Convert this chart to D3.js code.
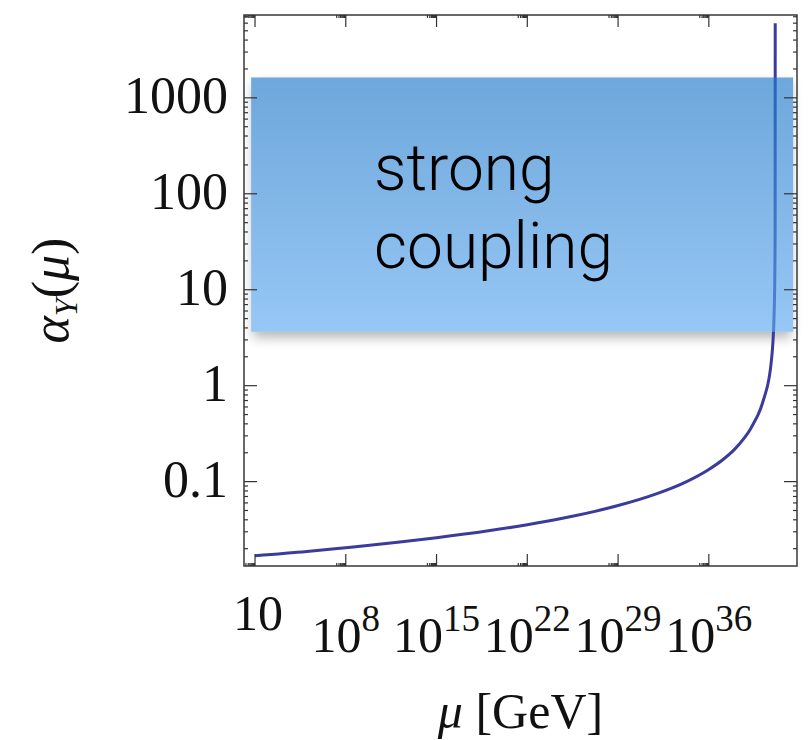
<!DOCTYPE html>
<html>
<head>
<meta charset="utf-8">
<script src="https://cdn.jsdelivr.net/npm/d3@7"></script>
<style>
  body { margin: 0; background: #fff; }
  svg { display: block; }
  .tick-label { font-family: "Liberation Serif", "Times New Roman", serif; fill: #111; }
  .band-label { font-family: Roboto, "Helvetica Neue", sans-serif; font-weight: 300; fill: #000; }
</style>
</head>
<body>
<div id="chart"></div>
<script>
// running coupling (mu in powers of ten)
const muExp = [1, 5, 8, 12, 15, 19, 22, 25, 29, 32, 34, 36, 37, 38, 38.8, 39.2, 39.5, 39.8, 40.0, 40.2, 40.4, 40.55, 40.7, 40.8, 40.9, 40.95, 41.0, 41.05, 41.08, 41.1, 41.115, 41.12];
const alphaY = [0.0169, 0.0187, 0.0205, 0.0233, 0.0260, 0.0307, 0.0355, 0.0422, 0.0563, 0.0750, 0.096, 0.134, 0.166, 0.218, 0.292, 0.352, 0.417, 0.50, 0.58, 0.70, 0.86, 1.03, 1.33, 1.7, 2.35, 2.95, 4.0, 6.6, 11, 20, 45, 6000];

const xTickExp = [1, 8, 15, 22, 29, 36];
const yTicks = [0.1, 1, 10, 100, 1000];
const yTickLabels = ['0.1', '1', '10', '100', '1000'];

// shaded "strong coupling" band
const bandAlpha = [3.64, 1630];
const bandMuExp = [0.7, 42.5];
const bandText = ['strong', 'coupling'];

const width = 812, height = 740;
const plot = { left: 244, right: 797, top: 15, bottom: 566 };

const x = d3.scaleLog().domain([10 ** 0.15, 10 ** 42.8]).range([plot.left, plot.right]);
const y = d3.scaleLog().domain([0.0132, 7300]).range([plot.bottom, plot.top]);

const svg = d3.select('#chart').append('svg')
  .attr('width', width)
  .attr('height', height);

const defs = svg.append('defs');

const grad = defs.append('linearGradient')
  .attr('id', 'bandGrad')
  .attr('x1', 0).attr('y1', 0).attr('x2', 0).attr('y2', 1);
grad.append('stop').attr('offset', '0%').attr('stop-color', 'rgb(32,120,200)');
grad.append('stop').attr('offset', '100%').attr('stop-color', 'rgb(94,169,240)');

defs.append('filter')
  .attr('id', 'blur')
  .attr('x', '-10%').attr('y', '-20%').attr('width', '120%').attr('height', '150%')
  .append('feGaussianBlur').attr('stdDeviation', 6);

const bx0 = x(10 ** bandMuExp[0]), bx1 = x(10 ** bandMuExp[1]);
const by0 = y(bandAlpha[1]), by1 = y(bandAlpha[0]);

// keep the shadow outside the band itself
const mask = defs.append('mask').attr('id', 'shadowMask');
mask.append('rect').attr('x', 0).attr('y', 0).attr('width', width).attr('height', height).attr('fill', '#fff');
mask.append('rect').attr('x', bx0).attr('y', by0).attr('width', bx1 - bx0).attr('height', by1 - by0).attr('fill', '#000');

svg.append('g')
  .attr('mask', 'url(#shadowMask)')
  .append('rect')
  .attr('x', bx0 + 2)
  .attr('y', by0 + 6)
  .attr('width', bx1 - bx0 - 4)
  .attr('height', by1 - by0)
  .attr('fill', '#000')
  .attr('opacity', 0.28)
  .attr('filter', 'url(#blur)');

// curve
const line = d3.line()
  .x((d, i) => x(10 ** muExp[i]))
  .y(d => y(d))
  .curve(d3.curveMonotoneX);

svg.append('path')
  .datum(alphaY)
  .attr('d', line)
  .attr('fill', 'none')
  .attr('stroke', '#3b3b9d')
  .attr('stroke-width', 3);

// band over the curve
svg.append('rect')
  .attr('x', bx0)
  .attr('y', by0)
  .attr('width', bx1 - bx0)
  .attr('height', by1 - by0)
  .attr('fill', 'url(#bandGrad)')
  .attr('opacity', 0.65);

svg.append('text')
  .attr('class', 'band-label')
  .attr('font-size', 64)
  .selectAll('tspan')
  .data(bandText)
  .join('tspan')
  .attr('x', 374)
  .attr('y', (d, i) => 190 + i * 78)
  .text(d => d);

// frame
svg.append('rect')
  .attr('x', plot.left)
  .attr('y', plot.top)
  .attr('width', plot.right - plot.left)
  .attr('height', plot.bottom - plot.top)
  .attr('fill', 'none')
  .attr('stroke', '#444')
  .attr('stroke-width', 1.6);

const ticks = svg.append('g').attr('stroke', '#333').attr('stroke-width', 1.2);

// x ticks: majors plus minor cluster below each major
const xMinor = [];
xTickExp.forEach(e => {
  for (let k = 2; k <= 9; k++) xMinor.push(10 ** (e - 1) * k);
});
xTickExp.forEach(e => {
  const px = x(10 ** e);
  ticks.append('line').attr('x1', px).attr('x2', px).attr('y1', plot.bottom).attr('y2', plot.bottom - 12);
  ticks.append('line').attr('x1', px).attr('x2', px).attr('y1', plot.top).attr('y2', plot.top + 12);
});
xMinor.filter(v => x(v) > plot.left).forEach(v => {
  const px = x(v);
  ticks.append('line').attr('x1', px).attr('x2', px).attr('y1', plot.bottom).attr('y2', plot.bottom - 3);
  ticks.append('line').attr('x1', px).attr('x2', px).attr('y1', plot.top).attr('y2', plot.top + 3);
});

// y ticks
const yMinor = [];
for (let e = -2; e <= 3; e++) {
  for (let k = 2; k <= 9; k++) yMinor.push(10 ** e * k);
}
yTicks.forEach(v => {
  const py = y(v);
  ticks.append('line').attr('x1', plot.left).attr('x2', plot.left + 13).attr('y1', py).attr('y2', py);
  ticks.append('line').attr('x1', plot.right).attr('x2', plot.right - 13).attr('y1', py).attr('y2', py);
});
yMinor.filter(v => y(v) > plot.top && y(v) < plot.bottom).forEach(v => {
  const py = y(v);
  ticks.append('line').attr('x1', plot.left).attr('x2', plot.left + 4).attr('y1', py).attr('y2', py);
  ticks.append('line').attr('x1', plot.right).attr('x2', plot.right - 4).attr('y1', py).attr('y2', py);
});

// y tick labels
svg.append('g')
  .selectAll('text')
  .data(yTicks)
  .join('text')
  .attr('class', 'tick-label')
  .attr('font-size', 52)
  .attr('text-anchor', 'end')
  .attr('x', 228)
  .attr('y', d => y(d) + 15)
  .text((d, i) => yTickLabels[i]);

// x tick labels
const xl = svg.append('g');
xTickExp.forEach(e => {
  const t = xl.append('text')
    .attr('class', 'tick-label')
    .attr('font-size', 50)
    .attr('text-anchor', 'middle')
    .attr('x', x(10 ** e) + (e === 1 ? 3 : 0))
    .attr('y', e === 1 ? 630 : 652);
  t.append('tspan').text('10');
  if (e !== 1) {
    t.append('tspan').attr('font-size', 37).attr('dy', -21).text(e);
  }
});

// axis titles
const xt = svg.append('text')
  .attr('class', 'tick-label')
  .attr('font-size', 50)
  .attr('text-anchor', 'middle')
  .attr('x', (plot.left + plot.right) / 2)
  .attr('y', 728);
xt.append('tspan').attr('font-style', 'italic').text('μ');
xt.append('tspan').text(' [GeV]');

const yt = svg.append('text')
  .attr('class', 'tick-label')
  .attr('font-size', 52)
  .attr('text-anchor', 'middle')
  .attr('transform', `translate(68,${(plot.top + plot.bottom) / 2}) rotate(-90)`);
yt.append('tspan').attr('font-style', 'italic').text('α');
yt.append('tspan').attr('font-style', 'italic').attr('font-size', 32).attr('dy', 9).text('Y');
yt.append('tspan').attr('dy', -9).text('(');
yt.append('tspan').attr('font-style', 'italic').text('μ');
yt.append('tspan').text(')');
</script>
</body>
</html>
